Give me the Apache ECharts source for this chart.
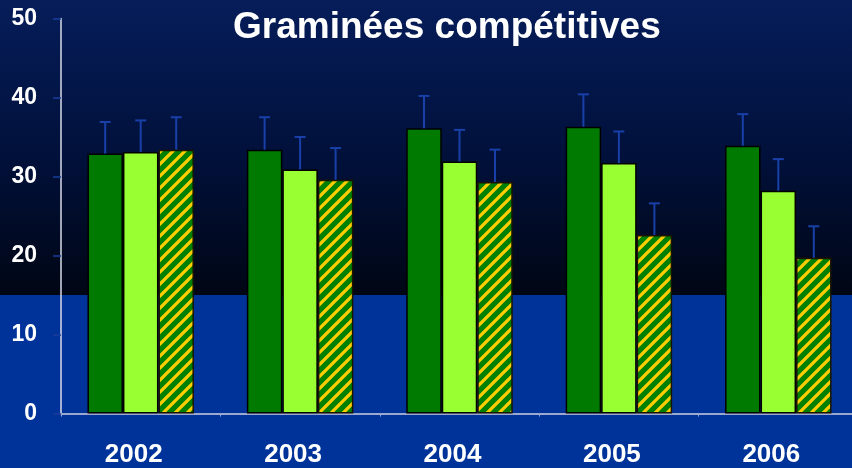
<!DOCTYPE html>
<html>
<head>
<meta charset="utf-8">
<script src="https://cdn.jsdelivr.net/npm/echarts@6/dist/echarts.min.js"></script>
<style>
html,body{margin:0;padding:0;overflow:hidden;width:852px;height:468px;}
#chart{width:858px;height:468px;}
</style>
</head>
<body>
<div id="chart"></div>
<script>
// ---- data ----
const years = ['2002', '2003', '2004', '2005', '2006'];
const seriesA = [32.9, 33.4, 36.1, 36.3, 33.9];   // dark green
const seriesB = [33.1, 30.9, 31.9, 31.7, 28.2];   // light green
const seriesC = [33.4, 29.6, 29.3, 22.6, 19.7];   // hatched
const errA = [4.0, 4.1, 4.1, 4.1, 4.0];
const errB = [4.0, 4.1, 4.0, 4.0, 4.0];
const errC = [4.1, 4.0, 4.1, 4.0, 4.0];
const yTicks = [0, 10, 20, 30, 40, 50];
const titleText = 'Graminées compétitives';

// ---- styles ----
const BAR_W = 35.5;
const FONT = '"Liberation Sans", Arial, sans-serif';

function hatchCanvas() {
  const s = 12;
  const c = document.createElement('canvas');
  c.width = s; c.height = s;
  const g = c.getContext('2d');
  g.fillStyle = '#008000';
  g.fillRect(0, 0, s, s);
  g.strokeStyle = '#ffcc00';
  g.lineWidth = 3.2;
  g.beginPath();
  g.moveTo(-s, s); g.lineTo(s, -s);
  g.moveTo(0, s); g.lineTo(s, 0);
  g.moveTo(0, 2 * s); g.lineTo(2 * s, 0);
  g.stroke();
  return c;
}

function errSeries(values, errs, k) {
  const data = values.map((v, i) => [i, v, v + errs[i]]);
  return {
    type: 'custom',
    z: 5,
    silent: true,
    data: data,
    encode: { x: 0, y: [1, 2] },
    renderItem: function (params, api) {
      const base = api.coord([api.value(0), api.value(1)]);
      const top = api.coord([api.value(0), api.value(2)]);
      const x = base[0] + (k - 1) * BAR_W;
      const cap = 5.5;
      const st = { stroke: '#1840a8', lineWidth: 2, fill: null };
      return {
        type: 'group',
        children: [
          { type: 'line', shape: { x1: x, y1: base[1], x2: x, y2: top[1] }, style: st },
          { type: 'line', shape: { x1: x - cap, y1: top[1], x2: x + cap, y2: top[1] }, style: st }
        ]
      };
    }
  };
}

const chart = echarts.init(document.getElementById('chart'), null, { renderer: 'canvas' });
const yMax = yTicks[yTicks.length - 1];

chart.setOption({
  animation: false,
  backgroundColor: {
    type: 'linear', x: 0, y: 0, x2: 0, y2: 1,
    colorStops: [
      { offset: 0, color: '#061d5a' },
      { offset: 0.35, color: '#011039' },
      { offset: 0.63, color: '#000614' },
      { offset: 0.6305, color: '#003399' },
      { offset: 1, color: '#003399' }
    ]
  },
  title: {
    text: titleText,
    left: 228,
    top: 4,
    textStyle: { color: '#ffffff', fontSize: 37, fontWeight: 'bold', fontFamily: FONT }
  },
  grid: { left: 61, right: 0, top: 18.5, bottom: 54.5, containLabel: false },
  xAxis: {
    type: 'category',
    data: years,
    axisLine: { show: true, lineStyle: { color: '#9aa8d0', width: 2 } },
    axisTick: { show: true, length: 3, lineStyle: { color: '#9aa8d0' } },
    axisLabel: {
      color: '#ffffff', fontSize: 26, fontWeight: 'bold', fontFamily: FONT,
      margin: 28, padding: [0, 14, 0, 0]
    },
    splitLine: { show: false }
  },
  yAxis: {
    type: 'value',
    min: yTicks[0], max: yMax, interval: 10,
    axisLine: { show: true, lineStyle: { color: '#d8dce8', width: 1.5 } },
    axisTick: { show: true, length: 8, lineStyle: { color: '#1a3e9c', width: 1.5 } },
    axisLabel: { color: '#ffffff', fontSize: 23, fontWeight: 'bold', fontFamily: FONT, margin: 24 },
    splitLine: { show: false }
  },
  series: [
    {
      type: 'bar', data: seriesA, barWidth: BAR_W, barGap: '0%',
      itemStyle: { color: '#007a00', borderColor: '#000000', borderWidth: 1.5 }
    },
    {
      type: 'bar', data: seriesB, barWidth: BAR_W, barGap: '0%',
      itemStyle: { color: '#99ff33', borderColor: '#000000', borderWidth: 1.5 }
    },
    {
      type: 'bar', data: seriesC, barWidth: BAR_W, barGap: '0%',
      itemStyle: { color: { image: hatchCanvas(), repeat: 'repeat' }, borderColor: '#1a1400', borderWidth: 1.5 }
    },
    errSeries(seriesA, errA, 0),
    errSeries(seriesB, errB, 1),
    errSeries(seriesC, errC, 2)
  ]
});
</script>
</body>
</html>
